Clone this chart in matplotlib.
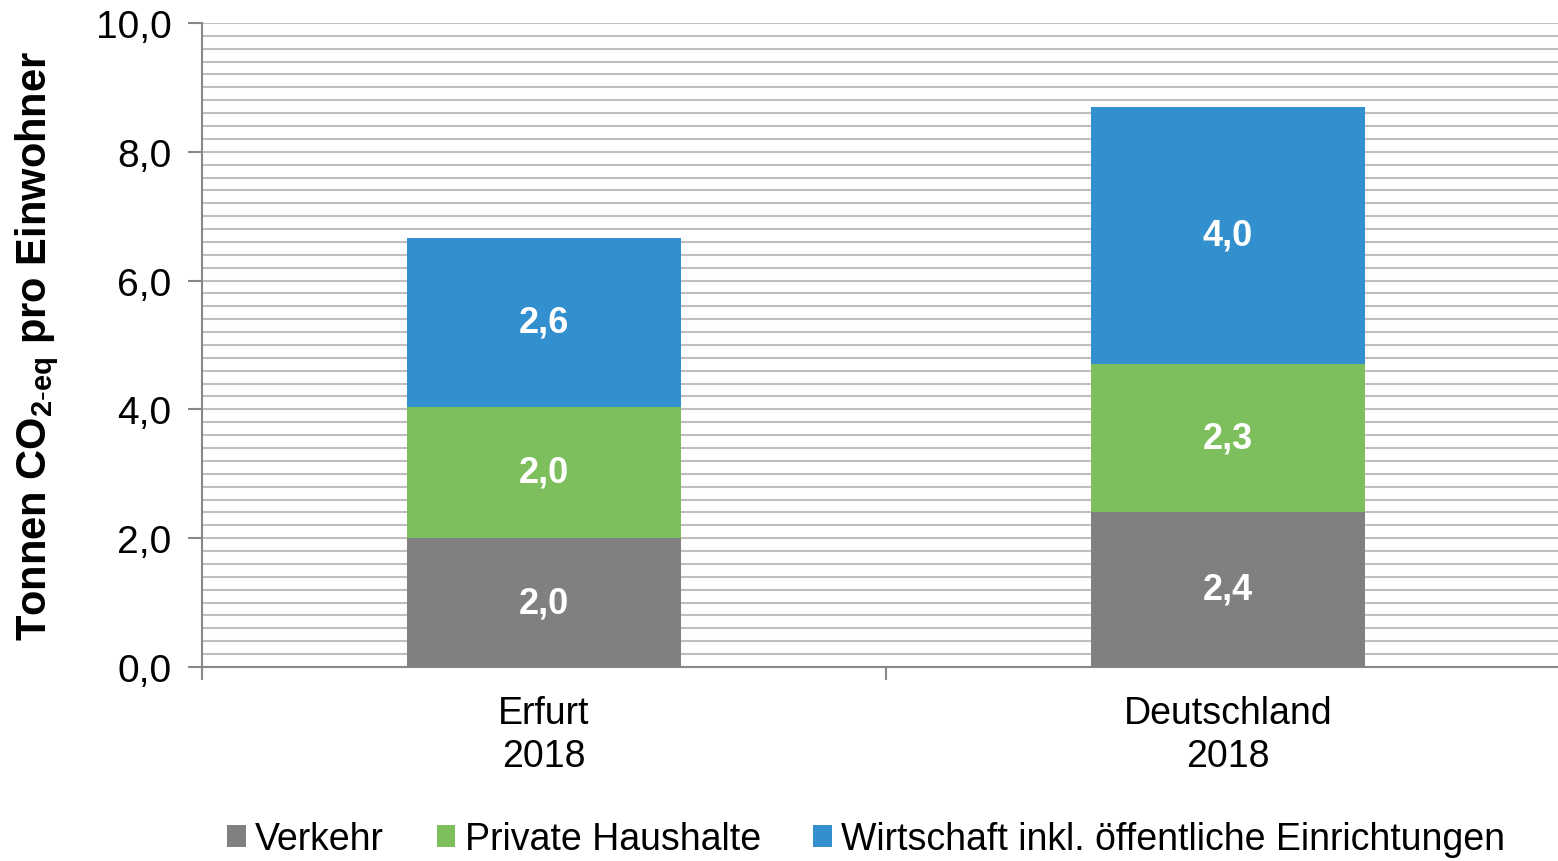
import numpy as np
import matplotlib
matplotlib.use("Agg")
import matplotlib.pyplot as plt
from matplotlib.ticker import MultipleLocator, FixedLocator

# Daten
kategorien = ["Erfurt\n2018", "Deutschland\n2018"]
sektoren = ["Verkehr", "Private Haushalte", "Wirtschaft inkl. öffentliche Einrichtungen"]
verkehr = [2.0, 2.41]
haushalte = [2.04, 2.29]
wirtschaft = [2.62, 4.0]
farben = ["#808080", "#7DBF5D", "#3190CD"]

plt.rcParams["font.family"] = ["Liberation Sans", "DejaVu Sans"]
plt.rcParams["mathtext.fontset"] = "custom"
plt.rcParams["mathtext.rm"] = "Liberation Sans"
plt.rcParams["mathtext.bf"] = "Liberation Sans:bold"

fig = plt.figure(figsize=(15.58, 8.62), dpi=100)
ax = fig.add_axes([0.1297, 0.2251, 0.878, 0.7471])

x = np.arange(len(kategorien))
werte = [verkehr, haushalte, wirtschaft]
unten = np.zeros(len(kategorien))
for name, w, f in zip(sektoren, werte, farben):
    w = np.array(w)
    ax.bar(x, w, width=0.4, bottom=unten, color=f, label=name, zorder=3)
    for xi, b, h in zip(x, unten, w):
        ax.text(xi, b + h / 2, f"{h:.1f}".replace(".", ","), ha="center", va="center",
                color="white", fontsize=26, fontweight="bold", zorder=4)
    unten += w

ax.set_xlim(-0.5, 1.5)
ax.set_ylim(0, 10)
ax.yaxis.set_major_locator(MultipleLocator(2))
ax.yaxis.set_minor_locator(MultipleLocator(0.2))
ax.set_yticklabels([f"{v:.1f}".replace(".", ",") for v in ax.get_yticks()])
ax.grid(axis="y", which="both", color="#BFBFBF", linewidth=1.5, zorder=0)

ax.set_xticks(x)
ax.set_xticklabels(kategorien, linespacing=1.25)
ax.xaxis.set_minor_locator(FixedLocator([-0.5, 0.5, 1.5]))
ax.tick_params(axis="x", which="major", length=0, pad=20, labelsize=27)
ax.tick_params(axis="x", which="minor", length=9, width=1.5, color="#888888")
ax.tick_params(axis="y", which="major", length=10, width=1.5, color="#888888", labelsize=28, pad=12)
ax.tick_params(axis="y", which="minor", length=0)

for s in ["top", "right"]:
    ax.spines[s].set_visible(False)
for s in ["left", "bottom"]:
    ax.spines[s].set_color("#888888")
    ax.spines[s].set_linewidth(1.5)

ax.set_ylabel(r"Tonnen CO$_{\mathbf{2\text{-}eq}}$ pro Einwohner", fontsize=30, fontweight="bold")
ax.yaxis.set_label_coords(-0.103, 0.5)

fig.legend(loc="center", bbox_to_anchor=(0.556, 0.025), ncol=3, frameon=False, fontsize=27,
           handlelength=0.5, handleheight=0.5, handletextpad=0.25, columnspacing=1.4)

fig.savefig("out.png", dpi=100)
